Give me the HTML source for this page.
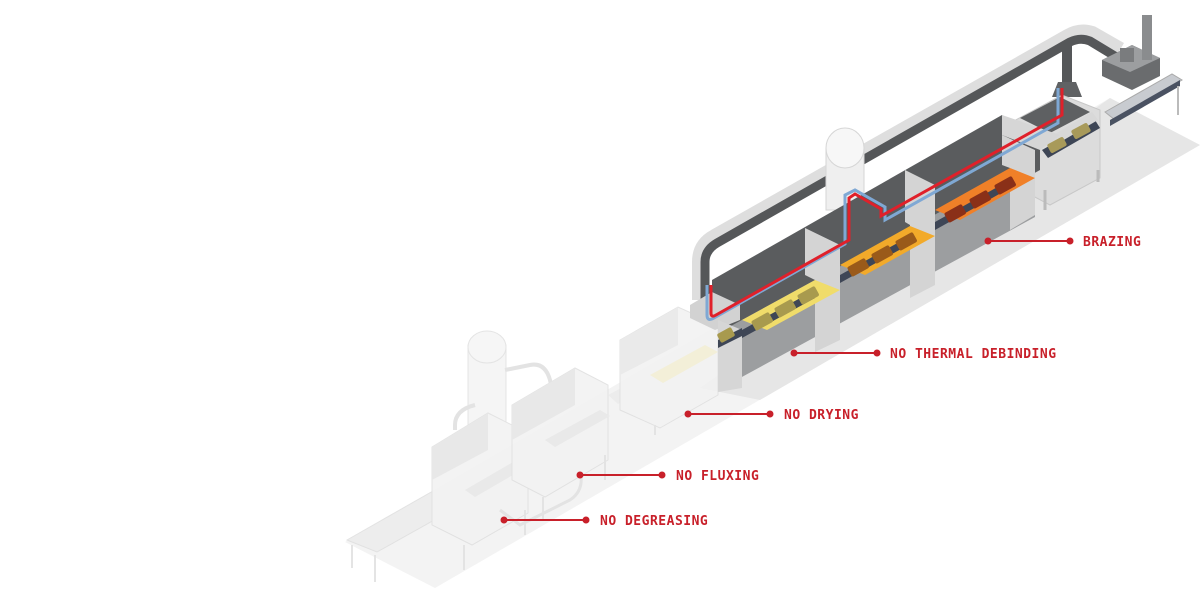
<!DOCTYPE html>
<html><head><meta charset="utf-8"><style>
html,body{margin:0;padding:0;background:#fff;}
svg{display:block}
.lbl{font-family:"DejaVu Sans Mono","Liberation Mono",monospace;font-weight:bold;font-size:13px;fill:#c8202a;letter-spacing:0.5px}
</style></head><body>
<svg width="1200" height="600" viewBox="0 0 1200 600" xmlns="http://www.w3.org/2000/svg">
<!-- floor -->
<polygon points="345,542 1110,98 1200,145 435,588" fill="#f3f3f3"/>
<polygon points="700,388 1110,98 1200,145 760,400" fill="#e6e6e6"/>

<!-- faded left stations -->
<g opacity="0.9">
 <rect x="468" y="345" width="38" height="80" fill="#f4f4f4" stroke="#e2e2e2"/>
 <ellipse cx="487" cy="347" rx="19" ry="16" fill="#f6f6f6" stroke="#e2e2e2"/>
 <path d="M505,370 L530,365 Q545,362 550,380 L553,395" fill="none" stroke="#e0e0e0" stroke-width="4"/>
 <path d="M475,405 Q455,410 455,425 L455,430" fill="none" stroke="#e0e0e0" stroke-width="4"/>
 <polygon points="347,540 440,487 470,500 377,552" fill="#ededed" stroke="#e0e0e0"/>
 <line x1="352" y1="545" x2="352" y2="568" stroke="#e2e2e2" stroke-width="2"/>
 <line x1="375" y1="555" x2="375" y2="582" stroke="#e2e2e2" stroke-width="2"/>
 <polygon points="432,447 488,413 528,433 528,513 472,545 432,525" fill="#f2f2f2" stroke="#e0e0e0"/>
 <polygon points="432,447 488,413 488,450 432,480" fill="#e6e6e6"/>
 <polygon points="465,490 520,458 530,465 475,497" fill="#e8e8e8"/>
 <line x1="464" y1="545" x2="464" y2="570" stroke="#e2e2e2" stroke-width="2"/>
 <line x1="525" y1="510" x2="525" y2="535" stroke="#e2e2e2" stroke-width="2"/>
 <path d="M500,510 L520,525 L570,500 Q585,490 580,470" fill="none" stroke="#e2e2e2" stroke-width="3"/>
 <polygon points="512,405 575,368 608,385 608,460 545,497 512,480" fill="#f2f2f2" stroke="#e0e0e0"/>
 <polygon points="512,405 575,368 575,405 512,440" fill="#e6e6e6"/>
 <polygon points="545,440 600,410 610,416 555,447" fill="#e8e8e8"/>
 <line x1="543" y1="497" x2="543" y2="520" stroke="#e2e2e2" stroke-width="2"/>
 <line x1="605" y1="455" x2="605" y2="480" stroke="#e2e2e2" stroke-width="2"/>
 <polygon points="608,395 640,378 650,386 618,404" fill="#ececec"/>
 <polygon points="620,340 678,307 718,325 718,395 660,428 620,410" fill="#f2f2f2" stroke="#e0e0e0"/>
 <polygon points="620,340 678,307 678,345 620,375" fill="#e8e8e8"/>
 <polygon points="650,375 705,345 718,352 663,383" fill="#f3efd6"/>
 <line x1="655" y1="425" x2="655" y2="435" stroke="#e2e2e2" stroke-width="2"/>
</g>

<!-- duct -->
<path d="M700,300 L700,262 Q700,245 715,237 L1068,37 Q1080,30 1092,34 L1120,50" fill="none" stroke="#dedede" stroke-width="16"/>
<path d="M705,300 L705,262 Q705,250 717,243 L1070,42 Q1080,37 1090,41 L1118,58" fill="none" stroke="#555759" stroke-width="9"/>
<rect x="1062" y="42" width="10" height="48" fill="#555759"/>
<polygon points="1058,82 1076,82 1082,97 1052,97" fill="#606264"/>
<polygon points="1102,60 1132,45 1160,58 1160,76 1132,90 1102,76" fill="#6a6c6e"/>
<polygon points="1102,60 1132,45 1160,58 1130,72" fill="#9c9ea0"/>
<rect x="1142" y="15" width="10" height="45" fill="#8a8c8e"/>
<rect x="1120" y="48" width="14" height="14" fill="#7a7c7e"/>

<!-- right station -->
<polygon points="1012,122 1062,95 1100,110 1100,178 1050,205 1012,185" fill="#dcdcdc" stroke="#c8c8c8"/>
<polygon points="1020,118 1060,97 1090,112 1050,133" fill="#5e6062"/>
<polygon points="1042,150 1095,120 1100,128 1048,158" fill="#3e4656"/>
<polygon points="1045,140 1092,112 1098,120 1050,148" fill="#d8d8d8"/>
<rect x="1048" y="140" width="18" height="10" rx="2" fill="#a89a5a" transform="rotate(-28 1057 145)"/>
<rect x="1072" y="126" width="18" height="10" rx="2" fill="#a89a5a" transform="rotate(-28 1081 131)"/>
<line x1="1045" y1="190" x2="1045" y2="210" stroke="#bbb" stroke-width="3"/>
<line x1="1098" y1="170" x2="1098" y2="182" stroke="#bbb" stroke-width="3"/>
<polygon points="1105,112 1172,74 1182,80 1115,120" fill="#c8cbd0" stroke="#aaa"/>
<polygon points="1110,120 1180,80 1180,86 1110,126" fill="#4a5262"/>
<line x1="1178" y1="86" x2="1178" y2="115" stroke="#bbb" stroke-width="2"/>

<!-- tank -->
<rect x="826" y="148" width="38" height="62" fill="#efefef" stroke="#d6d6d6"/>
<ellipse cx="845" cy="148" rx="19" ry="20" fill="#f7f7f7" stroke="#d6d6d6"/>

<!-- main furnace back wall -->
<polygon points="712,280 1002,115 1040,135 1040,170 740,335 712,320" fill="#5a5c5e"/>
<polygon points="1002,115 1060,135 1040,150 1002,135" fill="#d6d6d6"/>
<polygon points="690,305 712,292 740,305 740,320 715,330 690,318" fill="#d2d2d2"/>

<!-- front body -->
<polygon points="718,333 1035,160 1035,217 718,390" fill="#9c9ea0"/>
<!-- partitions full height -->
<polygon points="718,320 742,330 742,388 718,392" fill="#d6d6d6"/>
<polygon points="805,228 840,245 840,340 815,352 815,280 805,275" fill="#d4d4d4"/>
<polygon points="905,170 935,185 935,285 910,298 910,225 905,222" fill="#d4d4d4"/>
<polygon points="1002,135 1035,150 1035,215 1010,230 1010,168 1002,165" fill="#d4d4d4"/>

<!-- conveyors -->
<polygon points="742,320 815,280 840,290 767,330" fill="#f0dc6a"/>
<polygon points="840,265 910,226 935,236 865,275" fill="#f2aa2a"/>
<polygon points="935,210 1010,168 1035,178 960,220" fill="#f08028"/>
<polygon points="742,330 815,290 815,298 742,338" fill="#3e4656"/>
<polygon points="840,275 910,236 910,244 840,283" fill="#3e4656"/>
<polygon points="935,222 1010,180 1010,188 935,230" fill="#3e4656"/>
<polygon points="718,340 742,328 742,336 718,348" fill="#3e4656"/>
<g fill="#a89a4e">
 <rect x="752" y="316" width="20" height="11" rx="2" transform="rotate(-29 762 321)"/>
 <rect x="775" y="303" width="20" height="11" rx="2" transform="rotate(-29 785 308)"/>
 <rect x="798" y="290" width="20" height="11" rx="2" transform="rotate(-29 808 295)"/>
 <rect x="718" y="330" width="16" height="10" rx="2" transform="rotate(-29 726 335)"/>
</g>
<g fill="#9a5a1a">
 <rect x="848" y="262" width="20" height="11" rx="2" transform="rotate(-29 858 267)"/>
 <rect x="872" y="249" width="20" height="11" rx="2" transform="rotate(-29 882 254)"/>
 <rect x="896" y="236" width="20" height="11" rx="2" transform="rotate(-29 906 241)"/>
</g>
<g fill="#8a3018">
 <rect x="945" y="208" width="20" height="11" rx="2" transform="rotate(-29 955 213)"/>
 <rect x="970" y="194" width="20" height="11" rx="2" transform="rotate(-29 980 199)"/>
 <rect x="995" y="180" width="20" height="11" rx="2" transform="rotate(-29 1005 185)"/>
</g>

<!-- red & blue lines -->
<path d="M707,285 L707,315 Q707,322 714,318 L845,244 L845,195 L855,190 L885,207 L885,220 L1058,123 L1058,88" fill="none" stroke="#7fa8d4" stroke-width="3"/>
<path d="M711,285 L711,313 Q711,318 716,315 L849,240 L849,198 L855,194 L881,209 L881,216 L1062,115 L1062,88" fill="none" stroke="#e0202a" stroke-width="3"/>

<!-- labels -->
<g stroke="#c8202a" stroke-width="2" fill="#c8202a">
 <line x1="988" y1="241" x2="1070" y2="241"/><circle cx="988" cy="241" r="2.5"/><circle cx="1070" cy="241" r="2.5"/>
 <line x1="794" y1="353" x2="877" y2="353"/><circle cx="794" cy="353" r="2.5"/><circle cx="877" cy="353" r="2.5"/>
 <line x1="688" y1="414" x2="770" y2="414"/><circle cx="688" cy="414" r="2.5"/><circle cx="770" cy="414" r="2.5"/>
 <line x1="580" y1="475" x2="662" y2="475"/><circle cx="580" cy="475" r="2.5"/><circle cx="662" cy="475" r="2.5"/>
 <line x1="504" y1="520" x2="586" y2="520"/><circle cx="504" cy="520" r="2.5"/><circle cx="586" cy="520" r="2.5"/>
</g>
<text class="lbl" x="1083" y="246">BRAZING</text>
<text class="lbl" x="890" y="358">NO THERMAL DEBINDING</text>
<text class="lbl" x="784" y="419">NO DRYING</text>
<text class="lbl" x="676" y="480">NO FLUXING</text>
<text class="lbl" x="600" y="525">NO DEGREASING</text>
</svg>
</body></html>
